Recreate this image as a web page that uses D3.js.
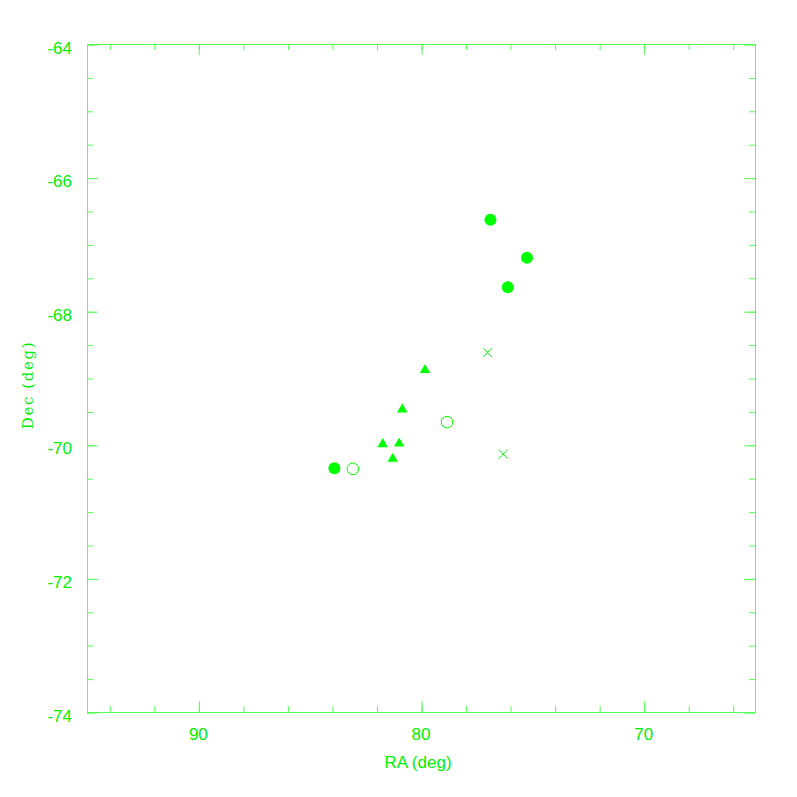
<!DOCTYPE html>
<meta charset="utf-8">
<head>
  <title>RA / Dec</title>
</head>
<style>
body {
  margin: 0;
  background: #fff;
}
text {
  font-family: "Liberation Sans", Helvetica, Arial, sans-serif;
  fill: #00ee00;
}
.axis line {
  stroke: #55ff55;
}
.axis path {
  display: none;
}
</style>
<body>
  <svg width="797" height="797"></svg>

  <script src="https://cdnjs.cloudflare.com/ajax/libs/d3/7.8.5/d3.min.js"></script>
  <script>
    // point groups (RA, Dec in degrees)
    var filledRA  = [76.88, 75.24, 76.10, 83.89];
    var filledDec = [-66.63, -67.20, -67.64, -70.35];

    var openRA  = [78.83, 83.06];
    var openDec = [-69.66, -70.36];

    var triRA  = [79.82, 80.84, 81.72, 80.98, 81.27];
    var triDec = [-68.88, -69.47, -69.99, -69.98, -70.21];

    var crossRA  = [77.01, 76.31];
    var crossDec = [-68.62, -70.14];

    var raMajor  = [90, 80, 70];
    var decMajor = [-64, -66, -68, -70, -72, -74];
    var raMinor  = d3.range(94, 65, -2);
    var decMinor = d3.range(-64, -74.01, -0.5);

    var svg = d3.select('svg');
    var green = '#00ff00';

    var x = d3.scaleLinear().domain([95, 65]).range([87, 755]);
    var y = d3.scaleLinear().domain([-64, -74]).range([44, 712]);

    // plain hyphen, like the original
    var fmt = function(d) { return String(d); };

    function pts(ra, dec) {
      return ra.map(function(d, i) { return [d, dec[i]]; });
    }

    // frame
    svg.append('rect')
      .attr('x', 87.5).attr('y', 44.5)
      .attr('width', 668).attr('height', 668)
      .attr('fill', 'none')
      .attr('stroke', '#55ff55');

    function addAxis(axis, tf) {
      return svg.append('g').attr('class', 'axis')
        .attr('transform', tf).call(axis);
    }

    // minor ticks, all four sides
    addAxis(d3.axisBottom(x).tickValues(raMinor).tickSize(-6).tickFormat(''), 'translate(0.5,712)');
    addAxis(d3.axisTop(x).tickValues(raMinor).tickSize(-6).tickFormat(''), 'translate(0.5,44)');
    addAxis(d3.axisLeft(y).tickValues(decMinor).tickSize(-6).tickFormat(''), 'translate(87,0.5)');
    addAxis(d3.axisRight(y).tickValues(decMinor).tickSize(-6).tickFormat(''), 'translate(755,0.5)');

    // major ticks + labels
    var bx = addAxis(d3.axisBottom(x).tickValues(raMajor).tickSize(-11).tickPadding(16).tickFormat(fmt), 'translate(0.5,712)');
    addAxis(d3.axisTop(x).tickValues(raMajor).tickSize(-11).tickFormat(''), 'translate(0.5,44)');
    var ly = addAxis(d3.axisLeft(y).tickValues(decMajor).tickSize(-11).tickPadding(15).tickFormat(fmt), 'translate(87,0.5)');
    addAxis(d3.axisRight(y).tickValues(decMajor).tickSize(-11).tickFormat(''), 'translate(755,0.5)');

    svg.selectAll('.axis text')
      .attr('font-size', 17)
      .attr('font-family', '"Liberation Sans", Helvetica, Arial, sans-serif')
      .attr('fill', green);
    ly.selectAll('text').attr('dy', '0.5em');
    bx.selectAll('text').attr('x', -1);

    // axis titles
    svg.append('text')
      .attr('x', 418).attr('y', 768)
      .attr('text-anchor', 'middle')
      .attr('font-size', 17)
      .text('RA (deg)');

    svg.append('text')
      .attr('transform', 'translate(33,385) rotate(-90)')
      .attr('text-anchor', 'middle')
      .attr('font-size', 15)
      .attr('letter-spacing', 1.6)
      .style('font-family', '"DejaVu Serif", serif')
      .text('Dec (deg)');

    // markers
    svg.append('g').selectAll('circle')
      .data(pts(filledRA, filledDec)).join('circle')
      .attr('cx', function(d) { return x(d[0]); })
      .attr('cy', function(d) { return y(d[1]); })
      .attr('r', 6)
      .attr('fill', green);

    svg.append('g').selectAll('circle')
      .data(pts(openRA, openDec)).join('circle')
      .attr('cx', function(d) { return x(d[0]); })
      .attr('cy', function(d) { return y(d[1]); })
      .attr('r', 5.8)
      .attr('fill', 'none')
      .attr('stroke', green)
      .attr('stroke-width', 1);

    var tri = d3.symbol().type(d3.symbolTriangle).size(48);
    svg.append('g').selectAll('path')
      .data(pts(triRA, triDec)).join('path')
      .attr('transform', function(d) { return 'translate(' + x(d[0]) + ',' + y(d[1]) + ')'; })
      .attr('d', tri())
      .attr('fill', green);

    svg.append('g').selectAll('path')
      .data(pts(crossRA, crossDec)).join('path')
      .attr('transform', function(d) { return 'translate(' + x(d[0]) + ',' + y(d[1]) + ')'; })
      .attr('d', 'M-4.5,-4.5L4.5,4.5M-4.5,4.5L4.5,-4.5')
      .attr('fill', 'none')
      .attr('stroke', green)
      .attr('stroke-width', 1);
  </script>
</body>
</html>
